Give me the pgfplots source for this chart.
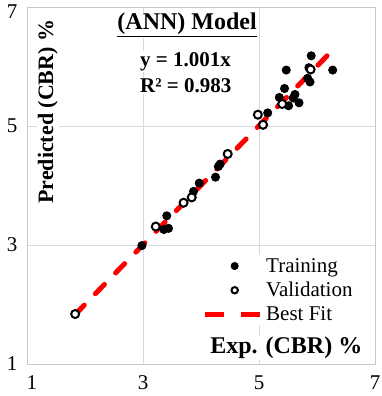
\documentclass[border=0pt]{standalone}
\usepackage{fontspec}
\setmainfont{Liberation Serif}
\usepackage{pgfplots}
\pgfplotsset{compat=1.18}
\definecolor{gridgray}{HTML}{D9D9D9}
\definecolor{axisgray}{HTML}{C8C8C8}
\begin{document}
\begin{tikzpicture}
\begin{axis}[
  width=348pt, height=357pt, scale only axis,
  xmin=1, xmax=7, ymin=1, ymax=7,
  xtick={1,3,5,7}, ytick={1,3,5,7},
  xticklabels={\hspace*{10pt}1,3,5,7},
  yticklabels={1,3,5,\raisebox{-5pt}[\height][0pt]{7}},
  grid=major,
  major grid style={draw=gridgray, line width=0.8pt},
  axis line style={draw=axisgray, line width=0.8pt},
  tick style={draw=none},
  ticklabel style={font=\fontsize{21}{23}\selectfont},
  xticklabel style={yshift=-8pt},
  yticklabel style={xshift=-6pt},
  /pgf/number format/assume math mode=true,
  clip=false,
  legend style={at={(axis cs:4.0,2.83)}, anchor=north west, draw=none, fill=white,
    inner sep=1pt, row sep=4.5pt, font=\fontsize{21}{23}\selectfont},
  legend cell align=left,
]
\addplot[only marks, mark=*, mark size=4pt, mark options={fill=black, draw=black, line width=1pt},
  legend image code/.code={\draw[mark repeat=2,mark phase=2, mark size=3.5pt] plot coordinates {(0pt,0pt)(30pt,0pt)(60pt,0pt)};}]
coordinates {
(5.90,6.18) (5.47,5.94) (6.27,5.94) (5.86,5.98) (5.88,5.74) (5.84,5.80)
(5.44,5.63) (5.35,5.48) (5.62,5.53) (5.59,5.47) (5.69,5.39) (5.51,5.34)
(5.15,5.22) (4.30,4.32) (4.33,4.36) (4.25,4.14) (3.97,4.04) (3.87,3.90)
(3.36,3.26) (3.44,3.28) (3.41,3.49) (2.98,2.99)
};
\addlegendentry{Training}
\addplot[only marks, mark=*, mark size=4pt, mark options={fill=white, draw=black, line width=2pt},
  legend image code/.code={\draw[mark repeat=2,mark phase=2, mark size=3.2pt] plot coordinates {(0pt,0pt)(30pt,0pt)(60pt,0pt)};}]
coordinates {
(5.89,5.95) (5.40,5.37) (4.98,5.19) (5.07,5.02) (4.46,4.53)
(3.84,3.80) (3.70,3.71) (3.22,3.31) (1.83,1.84)
};
\addlegendentry{Validation}
\addplot[red, line width=5pt, line cap=round, dash pattern=on 13pt off 16pt,
  legend image code/.code={\draw[line width=5pt, line cap=butt, dash pattern=on 19pt off 17pt] (0pt,0pt) -- (57pt,0pt);}]
coordinates {(1.83,1.832) (6.23,6.236)};
\addlegendentry{Best Fit}

\node[font=\bfseries\fontsize{24}{26}\selectfont, fill=white, inner sep=1pt] at (axis cs:3.76,6.70) {\underline{(ANN) Model}};
\node[anchor=west, font=\bfseries\fontsize{21}{23}\selectfont, fill=white, inner sep=1pt] at (axis cs:2.93,6.08) {y = 1.001x};
\node[anchor=west, font=\bfseries\fontsize{21}{23}\selectfont, fill=white, inner sep=1pt] at (axis cs:2.93,5.67) {R² = 0.983};
\node[rotate=90, font=\bfseries\fontsize{22}{24}\selectfont, fill=white, inner sep=1pt] at (axis cs:1.36,5.24) {Predicted (CBR) \%};
\node[font=\bfseries\fontsize{24}{26}\selectfont, fill=white, inner sep=1pt] at (axis cs:5.47,1.27) {Exp. (CBR) \%};
\end{axis}
\pgfresetboundingbox
\path ([shift={(-27pt,-32pt)}]current axis.south west) rectangle ([shift={(6pt,7pt)}]current axis.north east);
\end{tikzpicture}
\end{document}
